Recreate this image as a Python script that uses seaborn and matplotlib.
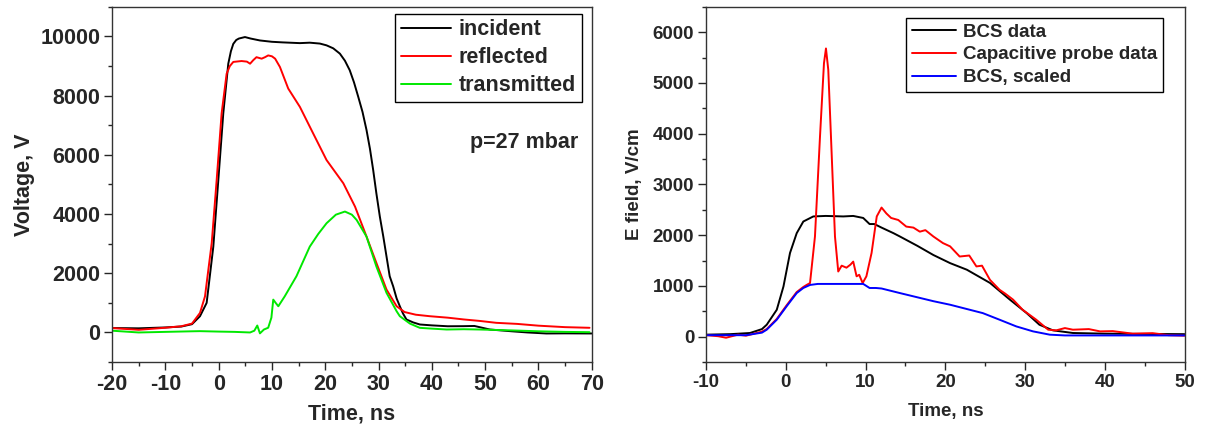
import numpy as np
import pandas as pd
import matplotlib
matplotlib.use("Agg")
import matplotlib.pyplot as plt
from matplotlib.ticker import MultipleLocator
import seaborn as sns

# ---- left panel: pulse voltages at p = 27 mbar ----
inc_t = [-20, -15, -10, -7, -5, -3.5, -2.25, -1.0, -0.06, 0.87, 1.81, 2.3, 2.75, 3.3, 3.8, 4.94,
         6, 7.75, 10, 12, 15.25, 17.1, 19, 20.25, 21.5, 22.75, 23.7, 24.6, 25.4, 26.2, 27, 27.75,
         28.4, 29, 29.6, 30.25, 30.9, 31.5, 32.1, 32.75, 33.4, 34, 34.6, 35.25, 36.5, 37.75, 40,
         43, 45.9, 48, 50.9, 55, 58, 61.5, 65, 70]
inc_v = [150, 140, 170, 200, 280, 550, 1000, 2900, 5150, 7400, 9080, 9500, 9750, 9880, 9930, 9980,
         9930, 9865, 9820, 9800, 9775, 9790, 9760, 9700, 9600, 9420, 9180, 8860, 8450, 7960, 7450,
         6840, 6200, 5490, 4700, 3916, 3240, 2570, 1900, 1560, 1150, 886, 640, 438, 340, 270, 240,
         210, 213, 220, 100, 40, 0, -34, -30, -34]

ref_t = [-20, -15, -10, -7, -5, -3.5, -2.56, -1.3, -0.37, 0.56, 1.5, 2.1, 2.75, 4.3, 5.3, 5.9, 6.5,
         7.1, 8.07, 8.7, 9.3, 10.0, 10.6, 11.5, 13.06, 15.25, 17.75, 20.25, 23.4, 25.6, 27.75, 29.6,
         31.5, 33.4, 34.9, 37, 39.6, 43, 46, 49, 52.1, 56, 60, 65, 69.6]
ref_v = [150, 90, 160, 210, 300, 660, 1220, 3020, 5150, 7400, 8740, 9000, 9140, 9170, 9150, 9080,
         9200, 9300, 9250, 9300, 9360, 9330, 9250, 8970, 8240, 7620, 6720, 5825, 5040, 4250, 3240,
         2350, 1450, 886, 690, 600, 550, 500, 440, 390, 326, 290, 230, 180, 158]

tr_t = [-20, -15, -10, -5, -3.5, 0, 3, 5.9, 6.7, 7.25, 7.75, 8.5, 9.3, 9.9, 10.25, 10.7, 11.2,
        12.4, 14.6, 17.1, 18.7, 20.25, 22, 23.7, 25, 25.9, 27.75, 29.6, 31.5, 33.4, 34, 35.9,
        37.75, 40, 42.8, 46, 49, 55, 60, 65, 69.6]
tr_v = [60, 0, 20, 40, 45, 30, 20, 0, 60, 235, -30, 100, 160, 500, 1110, 1000, 886, 1220, 1900,
        2900, 3330, 3690, 3980, 4085, 3980, 3800, 3240, 2230, 1340, 717, 550, 300, 157, 130, 100,
        110, 100, 70, 40, 20, 10]

# ---- right panel: electric field ----
bcs_t = [-10, -7, -4.5, -3, -2.4, -1.14, -0.3, 0.52, 1.36, 2.19, 3.44, 5, 7.2, 8.45, 9.7, 10.5,
         11.1, 12, 13.5, 14.3, 16.5, 18.5, 20.6, 22.7, 25.6, 28.1, 30.2, 31.8, 33.5, 36, 40, 45, 50]
bcs_v = [40, 50, 73, 150, 236, 531, 990, 1650, 2040, 2270, 2370, 2380, 2370, 2380, 2340, 2220,
         2220, 2150, 2040, 1975, 1790, 1610, 1450, 1320, 1060, 730, 465, 236, 125, 73, 60, 55, 50]

cap_t = [-10, -8.5, -7.5, -6, -5, -4, -3, -2.4, -1.14, 0.1, 1.36, 2.19, 2.6, 3.03, 3.65, 4.28,
         4.78, 5.03, 5.32, 5.74, 6.16, 6.57, 7.0, 7.6, 8.1, 8.45, 8.87, 9.2, 9.63, 10.1, 10.75,
         11.4, 12.0, 12.6, 13.2, 14.1, 15.1, 16.0, 16.8, 17.5, 18.5, 19.7, 20.6, 21.8, 23.0, 23.9,
         24.6, 25.6, 26.8, 27.5, 28.5, 29.7, 31.4, 32.9, 33.9, 35, 36, 38, 39.4, 41, 43.5, 46, 48, 50]
cap_v = [30, 10, -20, 40, 20, 60, 100, 150, 350, 620, 880, 980, 1020, 1057, 1975, 3940, 5390,
         5680, 5260, 3620, 1975, 1285, 1400, 1360, 1420, 1480, 1190, 1220, 1057, 1190, 1650, 2370,
         2545, 2430, 2340, 2300, 2170, 2150, 2070, 2100, 1975, 1845, 1780, 1580, 1600, 1385, 1400,
         1120, 925, 850, 730, 530, 335, 138, 125, 170, 138, 150, 105, 110, 60, 70, 30, 20]

scl_t = [-10, -5, -3, -2.4, -1.14, 0.1, 1.36, 2.19, 3.03, 4, 6, 8, 9.7, 10.5, 11.3, 12, 14.3,
         18.5, 20.6, 24.7, 26.8, 28.9, 31, 33.1, 35, 40, 50]
scl_v = [30, 30, 80, 138, 335, 600, 860, 960, 1020, 1040, 1040, 1040, 1040, 960, 960, 950, 860,
         700, 630, 465, 335, 203, 105, 40, 25, 25, 25]

left_labels = ["incident", "reflected", "transmitted"]
right_labels = ["BCS data", "Capacitive probe data", "BCS, scaled"]

sns.set_style("ticks")
plt.rcParams["font.family"] = ["Liberation Sans", "DejaVu Sans"]
plt.rcParams["font.weight"] = "bold"
plt.rcParams["axes.labelweight"] = "bold"
plt.rcParams["axes.unicode_minus"] = False

fig = plt.figure(figsize=(12.05, 4.29), dpi=100)
ax1 = fig.add_axes([0.093, 0.156, 0.398, 0.828])
ax2 = fig.add_axes([0.586, 0.156, 0.397, 0.828])

LW = 1.4
RED = "#ff0000"
GREEN = "#00e800"
BLUE = "#0000ff"

left = pd.concat([
    pd.DataFrame({"t": inc_t, "v": inc_v, "s": left_labels[0]}),
    pd.DataFrame({"t": ref_t, "v": ref_v, "s": left_labels[1]}),
    pd.DataFrame({"t": tr_t, "v": tr_v, "s": left_labels[2]}),
])
right = pd.concat([
    pd.DataFrame({"t": bcs_t, "v": bcs_v, "s": right_labels[0]}),
    pd.DataFrame({"t": cap_t, "v": cap_v, "s": right_labels[1]}),
    pd.DataFrame({"t": scl_t, "v": scl_v, "s": right_labels[2]}),
])

sns.lineplot(data=left, x="t", y="v", hue="s", hue_order=left_labels,
             palette=["black", RED, GREEN], linewidth=LW, sort=False,
             estimator=None, ax=ax1)
sns.lineplot(data=right, x="t", y="v", hue="s", hue_order=right_labels,
             palette=["black", RED, BLUE], linewidth=LW, sort=False,
             estimator=None, ax=ax2)


def style_axes(ax, fs, xlim, ylim, xmaj, ymaj, xmin, ymin, xlabel, ylabel, xpad, ypad):
    ax.set_xlim(*xlim)
    ax.set_ylim(*ylim)
    ax.xaxis.set_major_locator(MultipleLocator(xmaj))
    ax.yaxis.set_major_locator(MultipleLocator(ymaj))
    ax.xaxis.set_minor_locator(MultipleLocator(xmin))
    ax.yaxis.set_minor_locator(MultipleLocator(ymin))
    for sp in ax.spines.values():
        sp.set_visible(True)
        sp.set_linewidth(1.0)
        sp.set_color("#333333")
    ax.tick_params(which="major", direction="out", length=5.5, width=1.0,
                   labelsize=fs, top=False, right=False, pad=3)
    ax.tick_params(which="minor", direction="out", length=3, width=1.0,
                   top=False, right=False)
    for lab in ax.get_xticklabels() + ax.get_yticklabels():
        lab.set_fontweight("bold")
    ax.set_xlabel(xlabel, fontsize=fs, fontweight="bold", labelpad=xpad)
    ax.set_ylabel(ylabel, fontsize=fs, fontweight="bold", labelpad=ypad)


style_axes(ax1, 15.5, (-20, 70), (-1000, 11000), 10, 2000, 5, 1000,
           "Time, ns", "Voltage, V", 6, 4)
style_axes(ax2, 13.5, (-10, 50), (-500, 6500), 10, 1000, 5, 500,
           "Time, ns", "E field, V/cm", 9, 7)

leg1 = ax1.legend(loc="upper right", bbox_to_anchor=(0.979, 0.98), borderaxespad=0,
                  fancybox=False, edgecolor="black", framealpha=1,
                  prop={"weight": "bold", "size": 15.5}, handlelength=2.35,
                  handletextpad=0.35, labelspacing=0.32, borderpad=0.25)
leg1.get_frame().set_linewidth(1.0)
leg2 = ax2.legend(loc="upper right", bbox_to_anchor=(0.954, 0.969), borderaxespad=0,
                  fancybox=False, edgecolor="black", framealpha=1,
                  prop={"weight": "bold", "size": 13.5}, handlelength=2.35,
                  handletextpad=0.35, labelspacing=0.3, borderpad=0.3)
leg2.get_frame().set_linewidth(1.0)

ax1.text(0.973, 0.618, "p=27 mbar", transform=ax1.transAxes, ha="right", va="center",
         fontsize=15.5, fontweight="bold")

fig.savefig("out.png", dpi=100)
